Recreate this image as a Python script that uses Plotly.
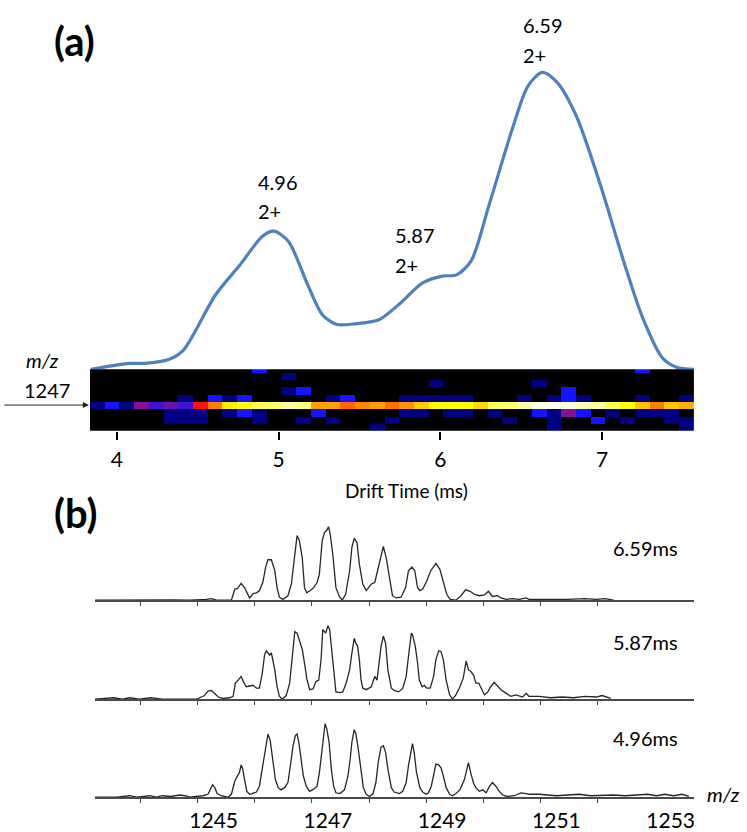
import numpy as np
import plotly.graph_objects as go

W, H = 747, 832
FONT = "Lato, 'Open Sans', sans-serif"

# ---------------- (a) drift-time profile ----------------
drift_time = [3.84, 4.08, 4.17, 4.32, 4.41, 4.61, 4.76, 4.90, 4.97, 5.06, 5.18, 5.27,
              5.36, 5.48, 5.62, 5.74, 5.89, 6.01, 6.10, 6.19, 6.30, 6.45, 6.54, 6.63,
              6.72, 6.84, 6.99, 7.14, 7.25, 7.37, 7.46, 7.57]
drift_intensity = [0, 2.0, 2.0, 3.3, 6.4, 25.1, 35.1, 44.8, 46.5, 43.1, 28.4, 18.4,
                   15.1, 15.4, 16.7, 21.7, 29.1, 31.4, 31.8, 36.5, 55.2, 81.9, 95.3, 100,
                   96.7, 85.3, 61.9, 35.1, 17.4, 4.0, 0.7, 0]
peak_labels = ["4.96", "5.87", "6.59"]
drift_ticks = [4, 5, 6, 7]

# ---------------- heatmap (m/z vs drift time) ----------------
N_BINS = 41
DT_MIN, DT_MAX = 3.833, 7.568
N, B, P = 0.18, 0.30, 0.40
hm_row0 = {11: B, 37: B}
hm_row1 = {13: N}
hm_row2 = {23: N, 30: N}
hm_row3 = {13: N, 14: B, 32: B}
hm_row4 = {6: N, 8: B, 9: N, 10: B, 16: N, 17: B, 21: N, 22: N, 23: N, 24: N, 25: N,
           29: N, 31: N, 32: B, 33: N, 37: N, 40: N}
hm_band = [0.18, 0.3, 0.18, 0.4, 0.34, 0.38, 0.34, 0.5, 0.64, 0.78, 0.8, 0.85, 0.86, 0.9,
           0.88, 0.7, 0.7, 0.6, 0.66, 0.7, 0.62, 0.68, 0.75, 0.8, 0.8, 0.8, 0.76, 0.86,
           0.87, 0.9, 0.97, 0.98, 0.97, 0.92, 0.9, 0.85, 0.8, 0.74, 0.64, 0.74, 0.72]
hm_row6 = {5: N, 6: N, 7: N, 9: N, 10: B, 11: N, 15: B, 21: N, 22: N, 24: N, 25: N,
           27: N, 30: B, 31: N, 32: P, 33: B, 35: N, 37: N, 38: N, 39: N}
hm_row7 = {5: N, 6: N, 7: N, 11: N, 14: N, 16: N, 20: N, 28: N, 31: N, 34: B, 36: N,
           39: N, 40: N}
hm_row8 = {19: N, 31: N, 40: N}


def sparse_row(d):
    return [d.get(i, 0.0) for i in range(N_BINS)]


hm_z = [sparse_row(hm_row0), sparse_row(hm_row1), sparse_row(hm_row2),
        sparse_row(hm_row3), sparse_row(hm_row4), list(hm_band),
        sparse_row(hm_row6), sparse_row(hm_row7), sparse_row(hm_row8)]
bin_w = (DT_MAX - DT_MIN) / N_BINS
hm_x = [DT_MIN + bin_w * (i + 0.5) for i in range(N_BINS)]
hm_colorscale = [[0.0, "#000000"], [0.12, "#000060"], [0.2, "#00008B"], [0.3, "#1414FF"],
                 [0.38, "#6A10B0"], [0.5, "#FF1010"], [0.6, "#FF6400"], [0.7, "#FFA000"],
                 [0.8, "#FFFF00"], [0.9, "#FFFFA0"], [1.0, "#FFFFFF"]]

# ---------------- (b) mass spectra ----------------
mz_659 = [1242.92, 1243.6, 1243.9, 1244.3, 1244.58, 1244.70, 1244.87, 1244.96, 1245.05,
          1245.31, 1245.37, 1245.42, 1245.48, 1245.54, 1245.60, 1245.63, 1245.69, 1245.75,
          1245.80, 1245.86, 1245.91, 1245.95, 1246.01, 1246.07, 1246.11, 1246.15, 1246.21,
          1246.30, 1246.36, 1246.42, 1246.46, 1246.50, 1246.55, 1246.59, 1246.63, 1246.69,
          1246.75, 1246.81, 1246.85, 1246.90, 1246.94, 1246.98, 1247.01, 1247.04, 1247.09,
          1247.14, 1247.20, 1247.25, 1247.31, 1247.38, 1247.42, 1247.46, 1247.51, 1247.55,
          1247.61, 1247.67, 1247.76, 1247.82, 1247.87, 1247.93, 1247.97, 1248.02, 1248.08,
          1248.13, 1248.19, 1248.28, 1248.36, 1248.41, 1248.47, 1248.52, 1248.57, 1248.61,
          1248.66, 1248.73, 1248.80, 1248.89, 1248.96, 1249.02, 1249.08, 1249.14, 1249.24,
          1249.33, 1249.41, 1249.49, 1249.56, 1249.65, 1249.74, 1249.81, 1249.88, 1249.97,
          1250.03, 1250.12, 1250.23, 1250.35, 1250.47, 1250.52, 1250.7, 1250.9, 1251.2,
          1251.5, 1251.7, 1251.85, 1252.0]
int_659 = [0, 0.5, 0, 0.5, 0, 0, 1, 2, 0,
           0, 15, 16, 23, 17, 6, 3, 9, 10,
           13, 24, 45, 55, 55, 40, 17, 4, 1,
           6, 22, 63, 88, 81, 58, 17, 10, 13,
           17, 24, 35, 81, 92, 95, 100, 90, 59,
           17, 5, 0, 8, 40, 72, 84, 78, 49,
           22, 13, 22, 24, 40, 62, 73, 58, 26,
           6, 3, 4, 17, 40, 45, 40, 17, 13,
           15, 26, 40, 50, 42, 26, 8, 1, 0,
           6, 14, 12, 8, 6, 7, 12, 5, 6,
           3, 1, 2, 1, 3, 1, 1, 0, 1,
           2, 1, 2, 0]

mz_587 = [1242.92, 1243.25, 1243.4, 1243.53, 1243.7, 1243.9, 1244.1, 1244.4, 1244.58,
          1244.70, 1244.84, 1244.90, 1244.96, 1245.02, 1245.08, 1245.16, 1245.28, 1245.34,
          1245.38, 1245.44, 1245.48, 1245.52, 1245.57, 1245.63, 1245.69, 1245.75, 1245.80,
          1245.85, 1245.89, 1245.92, 1245.98, 1246.01, 1246.07, 1246.11, 1246.15, 1246.20,
          1246.27, 1246.33, 1246.38, 1246.42, 1246.46, 1246.50, 1246.55, 1246.59, 1246.63,
          1246.68, 1246.74, 1246.79, 1246.84, 1246.88, 1246.91, 1246.96, 1247.00, 1247.03,
          1247.07, 1247.12, 1247.14, 1247.20, 1247.26, 1247.32, 1247.38, 1247.42, 1247.46,
          1247.49, 1247.52, 1247.55, 1247.58, 1247.61, 1247.67, 1247.76, 1247.79, 1247.82,
          1247.86, 1247.90, 1247.93, 1247.97, 1248.01, 1248.05, 1248.11, 1248.16, 1248.24,
          1248.31, 1248.37, 1248.41, 1248.46, 1248.48, 1248.53, 1248.57, 1248.60, 1248.65,
          1248.69, 1248.73, 1248.79, 1248.85, 1248.89, 1248.94, 1248.98, 1249.02, 1249.07,
          1249.13, 1249.18, 1249.24, 1249.30, 1249.37, 1249.42, 1249.46, 1249.50, 1249.55,
          1249.59, 1249.64, 1249.68, 1249.74, 1249.80, 1249.85, 1249.91, 1249.95, 1250.03,
          1250.12, 1250.20, 1250.29, 1250.41, 1250.47, 1250.52, 1250.7, 1250.9, 1251.1,
          1251.3, 1251.5, 1251.7, 1251.8, 1251.95]
int_587 = [0, 2, 0, 2, 0, 2, 0, 0, 1,
           0, 5, 11, 12, 7, 3, 1, 2, 4,
           22, 27, 31, 24, 17, 18, 19, 15, 15,
           35, 60, 66, 60, 63, 40, 17, 4, 0,
           5, 22, 58, 92, 90, 81, 68, 49, 28,
           13, 14, 24, 26, 54, 95, 90, 100, 95,
           63, 24, 10, 9, 10, 22, 40, 63, 83,
           76, 72, 54, 26, 15, 13, 17, 26, 31,
           26, 49, 72, 86, 76, 40, 15, 12, 10,
           15, 31, 58, 90, 88, 72, 49, 26, 17,
           19, 15, 15, 31, 54, 66, 65, 54, 26,
           6, 0, 6, 15, 29, 52, 40, 38, 33,
           22, 22, 15, 6, 10, 17, 23, 20, 13,
           8, 4, 6, 3, 8, 4, 4, 2, 3,
           2, 4, 3, 5, 1]

mz_496 = [1242.92, 1243.3, 1243.53, 1243.65, 1243.88, 1244.0, 1244.1, 1244.25, 1244.4,
          1244.5, 1244.58, 1244.70, 1244.81, 1244.90, 1244.94, 1244.98, 1245.02, 1245.06,
          1245.13, 1245.25, 1245.31, 1245.37, 1245.43, 1245.45, 1245.48, 1245.51, 1245.54,
          1245.58, 1245.63, 1245.69, 1245.75, 1245.80, 1245.86, 1245.91, 1245.95, 1245.99,
          1246.04, 1246.08, 1246.13, 1246.18, 1246.24, 1246.30, 1246.35, 1246.39, 1246.43,
          1246.46, 1246.49, 1246.53, 1246.57, 1246.62, 1246.68, 1246.75, 1246.81, 1246.85,
          1246.89, 1246.92, 1246.95, 1246.98, 1247.02, 1247.06, 1247.10, 1247.14, 1247.21,
          1247.29, 1247.35, 1247.39, 1247.42, 1247.46, 1247.49, 1247.53, 1247.58, 1247.62,
          1247.67, 1247.73, 1247.79, 1247.84, 1247.88, 1247.93, 1247.97, 1248.01, 1248.05,
          1248.11, 1248.16, 1248.25, 1248.31, 1248.37, 1248.41, 1248.46, 1248.48, 1248.51,
          1248.55, 1248.61, 1248.66, 1248.72, 1248.76, 1248.81, 1248.85, 1248.89, 1248.94,
          1248.98, 1249.02, 1249.07, 1249.13, 1249.18, 1249.24, 1249.31, 1249.39, 1249.43,
          1249.46, 1249.50, 1249.55, 1249.59, 1249.65, 1249.71, 1249.77, 1249.83, 1249.88,
          1249.94, 1250.00, 1250.06, 1250.14, 1250.26, 1250.38, 1250.47, 1250.52, 1250.7,
          1250.85, 1251.0, 1251.2, 1251.4, 1251.6, 1251.8, 1252.0, 1252.2, 1252.4,
          1252.6, 1252.75, 1252.9, 1253.05, 1253.2, 1253.32]
int_496 = [0, 0, 2, 0, 2, 0, 2, 1, 3,
           2, 0, 1, 2, 4, 10, 17, 13, 5,
           2, 0, 4, 22, 31, 33, 44, 38, 24,
           8, 4, 5, 7, 15, 42, 70, 86, 77,
           51, 24, 13, 10, 13, 20, 47, 70, 84,
           86, 75, 52, 29, 15, 8, 11, 15, 33,
           61, 84, 100, 93, 75, 38, 15, 6, 5,
           10, 29, 52, 75, 92, 86, 66, 33, 13,
           4, 1, 5, 20, 47, 68, 70, 61, 38,
           13, 7, 5, 8, 20, 43, 66, 73, 61,
           34, 13, 7, 4, 6, 15, 29, 45, 44,
           40, 29, 13, 4, 2, 5, 10, 24, 38,
           47, 33, 19, 13, 8, 10, 6, 15, 20,
           15, 8, 3, 1, 2, 6, 5, 4, 4,
           3, 2, 3, 4, 2, 3, 3, 2, 3,
           4, 2, 4, 2, 4, 1]

spectra_labels = ["6.59ms", "5.87ms", "4.96ms"]
mz_tick_marks = [1243.72, 1244.72, 1245.72, 1246.72, 1247.72, 1248.72, 1249.72,
                 1250.72, 1251.72]
mz_tick_labels = [1245, 1247, 1249, 1251, 1253]
MZ_RANGE = [1242.92, 1253.41]


def px(x):
    return x / W


def py(y):
    return 1 - y / H


fig = go.Figure()

# (a) profile
fig.add_trace(go.Scatter(x=drift_time, y=drift_intensity, mode="lines",
                         line=dict(color="#4F81BD", width=3.2, shape="spline", smoothing=0.8),
                         xaxis="x", yaxis="y", hoverinfo="skip"))
# heatmap
fig.add_trace(go.Heatmap(z=hm_z, x=hm_x, y=list(range(9)), zmin=0, zmax=1,
                         colorscale=hm_colorscale, showscale=False,
                         xaxis="x2", yaxis="y2"))
# spectra
for mz, inten, xa, ya in [(mz_659, int_659, "x3", "y3"),
                          (mz_587, int_587, "x4", "y4"),
                          (mz_496, int_496, "x5", "y5")]:
    fig.add_trace(go.Scatter(x=mz, y=inten, mode="lines",
                             line=dict(color="#262626", width=1.3),
                             xaxis=xa, yaxis=ya, hoverinfo="skip"))

hidden = dict(visible=False, showgrid=False, zeroline=False)
x_dom_a = [px(90), px(695)]
x_dom_b = [px(95), px(695)]

layout = dict(
    width=W, height=H, margin=dict(l=0, r=0, t=0, b=0),
    paper_bgcolor="white", plot_bgcolor="white", showlegend=False,
    font=dict(family=FONT, color="black"),
    xaxis=dict(domain=x_dom_a, range=[DT_MIN, DT_MAX], anchor="y", **hidden),
    yaxis=dict(domain=[py(372), py(60)], range=[0, 104.3], anchor="x", **hidden),
    xaxis2=dict(domain=x_dom_a, range=[DT_MIN, DT_MAX], anchor="y2",
                showgrid=False, zeroline=False, showline=False,
                tickmode="array", tickvals=drift_ticks, ticks="outside",
                ticklen=8, tickwidth=2, tickcolor="black",
                tickfont=dict(size=21, family=FONT, color="black"),
                ticklabelstandoff=2),
    yaxis2=dict(domain=[py(434), py(372)], range=[8.5, 0.05], anchor="x2", **hidden),
)

bases = {"3": 604.5, "4": 704.3, "5": 803}
for k, base in bases.items():
    xa = dict(domain=x_dom_b, range=MZ_RANGE, anchor="y" + k,
              showgrid=False, zeroline=False, showline=True,
              linecolor="#4a4a4a", linewidth=1.5)
    if k == "5":
        xa.update(tickmode="array", tickvals=mz_tick_labels,
                  ticktext=[str(v) for v in mz_tick_labels], ticks="",
                  tickfont=dict(size=21, family=FONT, color="black"),
                  ticklabelstandoff=4,
                  minor=dict(tickmode="array", tickvals=mz_tick_marks, ticks="outside",
                             ticklen=4, tickwidth=1, tickcolor="#4a4a4a"))
    else:
        xa.update(tickmode="array", tickvals=mz_tick_marks, ticks="outside",
                  ticklen=4, tickwidth=1, tickcolor="#4a4a4a", showticklabels=False)
    layout["xaxis" + k] = xa
    layout["yaxis" + k] = dict(domain=[py(base), py(base - 80)], range=[0, 108.1],
                               anchor="x" + k, **hidden)

fig.update_layout(**layout)

ann = []


def text(x, y, s, size=20, **kw):
    d = dict(x=px(x), y=py(y), xref="paper", yref="paper", text=s, showarrow=False,
             font=dict(size=size, family=FONT, color="black"), xanchor="left",
             yanchor="middle")
    d.update(kw)
    ann.append(d)


text(52, 41, "<b>(a)</b>", size=40)
text(52, 517, "<b>(b)</b>", size=40)
# peak labels
for lbl, (lx, ly) in zip(peak_labels, [(256, 183), (394, 237), (522, 25)]):
    text(lx, ly, lbl)
    text(lx, ly + 30, "2+")
# m/z 1247 marker
text(24, 363, "<i>m/z</i>", size=20)
text(22, 393, "1247", size=20)
ann.append(dict(x=px(89), y=py(408), xref="paper", yref="paper", ax=-86, ay=0,
                axref="pixel", ayref="pixel", text="", showarrow=True,
                arrowhead=2, arrowsize=1.2, arrowwidth=1, arrowcolor="#222"))
text(407, 494, "Drift Time (ms)", size=19, xanchor="center")
# spectra labels
for lbl, ly in zip(spectra_labels, [552, 647, 743]):
    text(612, ly, lbl, size=20)
text(706, 800, "<i>m/z</i>", size=20)

fig.update_layout(annotations=ann)
fig.write_html("out.html", config={"displayModeBar": False},
               post_script="document.body.style.margin='0';document.body.style.padding='0';")
